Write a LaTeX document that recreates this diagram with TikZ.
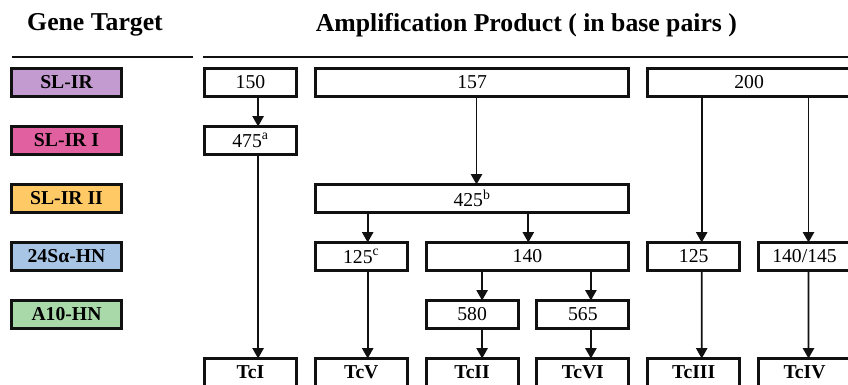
\documentclass[tikz,border=0pt]{standalone}
\usepackage{fontspec}
\setmainfont{Liberation Serif}
\usepackage{xcolor}
\definecolor{cLine}{HTML}{111111}
\definecolor{cSLIR}{HTML}{C49BD1}
\definecolor{cSLIRi}{HTML}{E1609F}
\definecolor{cSLIRii}{HTML}{FFC966}
\definecolor{cHN}{HTML}{A9C5E5}
\definecolor{cAten}{HTML}{A9D8A9}
\usepackage{tikz}
\usetikzlibrary{positioning,arrows.meta,calc}
\tikzset{
  head-text/.style={font=\fontsize{18.3}{21}\selectfont\bfseries,inner sep=0pt},
  head-rule/.style={draw=cLine,line width=1.4pt},
  gene-box/.style={draw=cLine,line width=2.2pt,minimum width=27.5mm,
    minimum height=7mm,inner sep=0pt,outer sep=0pt,align=center,
    font=\fontsize{14}{16}\selectfont\bfseries},
  prod-box/.style={draw=cLine,line width=2.2pt,fill=white,minimum width=23mm,
    minimum height=7mm,inner sep=0pt,outer sep=0pt,align=center,
    font=\fontsize{14}{16}\selectfont},
  tc-box/.style={prod-box,font=\fontsize{14}{16}\selectfont\bfseries},
  % boxes spanning two or three columns
  wide2/.style={minimum width=50.7mm},
  wide3/.style={minimum width=78.4mm},
  arrow/.style={-{Triangle[length=2.6mm,width=2.8mm]},line width=1.3pt,draw=cLine},
}
\begin{document}
\begin{tikzpicture}[node distance=7.5mm and 4.7mm]
  \useasboundingbox (0,0) rectangle (21.2,-9.625);
  \node[head-text] (hgene) at (2.375,-0.62) {Gene Target};
  \node[head-text] (hamp) at (13.16,-0.62) {Amplification Product ( in base pairs )};
  \coordinate (rule1a) at (0.3,-1.425);
  \coordinate (rule1b) at (4.825,-1.425);
  \coordinate (rule2a) at (5.075,-1.425);
  \coordinate (rule2b) at (21.2,-1.425);
  \draw[head-rule] (rule1a) -- (rule1b);
  \draw[head-rule] (rule2a) -- (rule2b);

  \node[gene-box,fill=cSLIR] (slir) at (1.6625,-2.0625) {SL-IR};
  \node[gene-box,fill=cSLIRi,below=of slir] (slir1) {SL-IR I};
  \node[gene-box,fill=cSLIRii,below=of slir1] (slir2) {SL-IR II};
  \node[gene-box,fill=cHN,below=of slir2] (hn24) {24S\char"03B1-HN};
  \node[gene-box,fill=cAten,below=of hn24] (a10) {A10-HN};

  \node[prod-box] (p150) at (6.2625,-2.0625) {150};
  \node[prod-box,wide3,right=of p150] (p157) {157};
  \node[prod-box,wide2,right=of p157] (p200) {200};
  \node[prod-box,below=of p150] (p475) {475\textsuperscript{a}};
  \node[prod-box,wide3] (p425) at (p157 |- slir2) {425\textsuperscript{b}};
  \node[prod-box,below=of p425.south west,anchor=north west] (p125c) {125\textsuperscript{c}};
  \node[prod-box,wide2,right=of p125c] (p140) {140};
  \node[prod-box,right=of p140] (p125) {125};
  \node[prod-box,right=of p125] (p140x) {140/145};
  \node[prod-box,below=of p140.south west,anchor=north west] (p580) {580};
  \node[prod-box,right=of p580] (p565) {565};

  \node[tc-box,below=of p580] (tcII) {TcII};
  \node[tc-box,left=of tcII] (tcV) {TcV};
  \node[tc-box,left=of tcV] (tcI) {TcI};
  \node[tc-box,right=of tcII] (tcVI) {TcVI};
  \node[tc-box,right=of tcVI] (tcIII) {TcIII};
  \node[tc-box,right=of tcIII] (tcIV) {TcIV};

  \draw[arrow] ($(p150.south)+(0.19,0)$) -- ($(p475.north)+(0.19,0)$);
  \draw[arrow] ($(p475.south)+(0.19,0)$) -- ($(tcI.north)+(0.19,0)$);
  \draw[arrow] ($(p157.south)+(0.11,0)$) -- ($(p425.north)+(0.11,0)$);
  \draw[arrow] ($(p125c.north |- p425.south)+(0.16,0)$) -- ($(p125c.north)+(0.16,0)$);
  \draw[arrow] ($(p140.north |- p425.south)+(0.02,0)$) -- ($(p140.north)+(0.02,0)$);
  \draw[arrow] ($(p125c.south)+(0.16,0)$) -- ($(tcV.north)+(0.16,0)$);
  \draw[arrow] ($(p580.north |- p140.south)+(0.25,0)$) -- ($(p580.north)+(0.25,0)$);
  \draw[arrow] ($(p565.north |- p140.south)+(0.2,0)$) -- ($(p565.north)+(0.2,0)$);
  \draw[arrow] ($(p580.south)+(0.25,0)$) -- ($(tcII.north)+(0.25,0)$);
  \draw[arrow] ($(p565.south)+(0.2,0)$) -- ($(tcVI.north)+(0.2,0)$);
  \draw[arrow] ($(p125.north |- p200.south)+(0.2,0)$) -- ($(p125.north)+(0.2,0)$);
  \draw[arrow] ($(p140x.north |- p200.south)+(0.1,0)$) -- ($(p140x.north)+(0.1,0)$);
  \draw[arrow] ($(p125.south)+(0.2,0)$) -- ($(tcIII.north)+(0.2,0)$);
  \draw[arrow] ($(p140x.south)+(0.1,0)$) -- ($(tcIV.north)+(0.1,0)$);
\end{tikzpicture}
\end{document}
